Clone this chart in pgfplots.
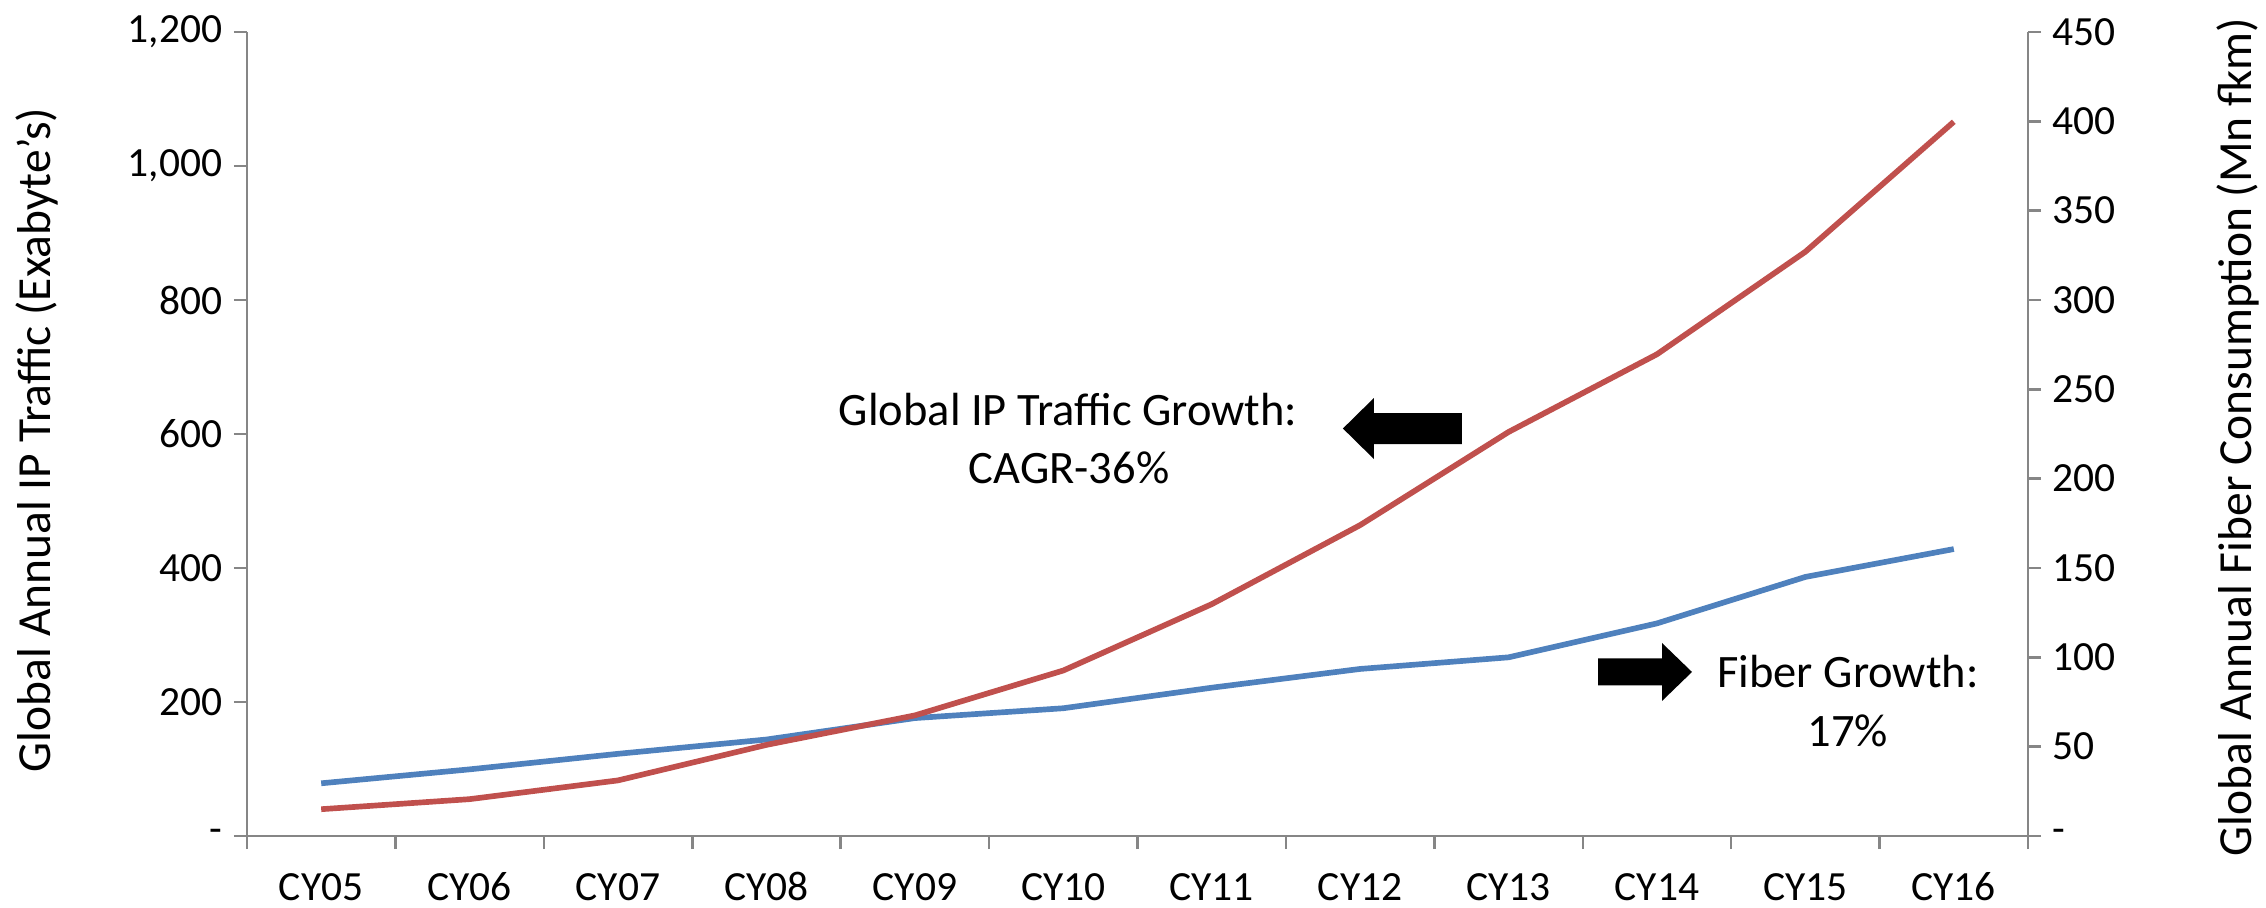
\documentclass[border=0pt]{standalone}
\usepackage{fontspec}
\setmainfont{Carlito}
\usepackage{pgfplots}
\pgfplotsset{compat=1.18}
\definecolor{axgray}{HTML}{868686}
\definecolor{ipred}{HTML}{C0504D}
\definecolor{fibblue}{HTML}{4F81BD}
\pgfplotsset{
  common/.style={
    scale only axis, width=534.3bp, height=241.2bp,
    xmin=-0.5, xmax=11.5, clip=false,
    axis line style={axgray, line width=0.75bp},
    tick style={axgray, line width=0.75bp},
    tick align=outside, major tick length=3.9bp,
    ticklabel style={font=\fontsize{12.5}{15}\selectfont, text=black},
  }
}
\begin{document}
\begin{tikzpicture}
% right axis: fiber consumption
\begin{axis}[common, name=R,
  axis x line=none, axis y line*=right,
  ymin=0, ymax=450,
  ytick={0,50,...,450},
  yticklabels={-,50,100,150,200,250,300,350,400,450},
  yticklabel style={anchor=west},
]
\addplot[fibblue, line width=1.7bp, line join=round] coordinates {
(0,29.5) (1,37.3) (2,46) (3,54) (4,66) (5,71.5) (6,83) (7,93.5) (8,100) (9,119) (10,145) (11,160.6)};
\end{axis}
% left axis: IP traffic
\begin{axis}[common, name=L,
  axis y line*=left, axis x line*=bottom,
  ymin=0, ymax=1200,
  ytick={0,200,...,1200},
  yticklabels={{-\hspace{5.7bp}},200,400,600,800,{1,000},{1,200}},
  yticklabel style={anchor=east},
  xtick={-0.5,0.5,...,11.5}, xticklabels={},
  extra x ticks={0,1,...,11},
  extra x tick labels={CY05,CY06,CY07,CY08,CY09,CY10,CY11,CY12,CY13,CY14,CY15,CY16},
  extra x tick style={major tick length=0pt, tick style={draw=none},
    xticklabel style={anchor=base, yshift=-19.2bp}},
]
\addplot[ipred, line width=1.7bp, line join=round] coordinates {
(0,40) (1,55) (2,83) (3,136) (4,180) (5,247) (6,346) (7,464) (8,603) (9,719) (10,872) (11,1066)};
\node[anchor=base, font=\fontsize{14}{17}\selectfont] at (axis cs:5.032,613.4) {Global IP Traffic Growth:};
\node[anchor=base, font=\fontsize{14}{17}\selectfont] at (axis cs:5.038,525.4) {CAGR-36\%};
\node[anchor=base, font=\fontsize{14}{17}\selectfont] at (axis cs:10.287,220.9) {Fiber Growth:};
\node[anchor=base, font=\fontsize{14}{17}\selectfont] at (axis cs:10.287,134.3) {17\%};
\coordinate (TL) at (axis cs:6.884,608.2);
\coordinate (TR) at (axis cs:9.236,244.8);
\end{axis}
\fill[black] (TL) -- ++(9.3bp,9.15bp) -- ++(0,-4.5bp) -- ++(26.4bp,0) -- ++(0,-9.3bp) -- ++(-26.4bp,0) -- ++(0,-4.5bp) -- cycle;
\fill[black] (TR) -- ++(-9bp,8.7bp) -- ++(0,-4.65bp) -- ++(-19.2bp,0) -- ++(0,-8.1bp) -- ++(19.2bp,0) -- ++(0,-4.65bp) -- cycle;
\node[rotate=90, font=\fontsize{14.3}{17}\selectfont] at ([xshift=-63bp,yshift=-1.8bp]L.west) {Global Annual IP Traffic (Exabyte's)};
\node[rotate=90, font=\fontsize{14.3}{17}\selectfont] at ([xshift=63bp,yshift=-0.9bp]L.east) {Global Annual Fiber Consumption (Mn fkm)};
\pgfresetboundingbox
\useasboundingbox ([xshift=-74.1bp,yshift=-21.3bp]L.south west) rectangle ++(679.8bp,272.1bp);
\end{tikzpicture}
\end{document}
